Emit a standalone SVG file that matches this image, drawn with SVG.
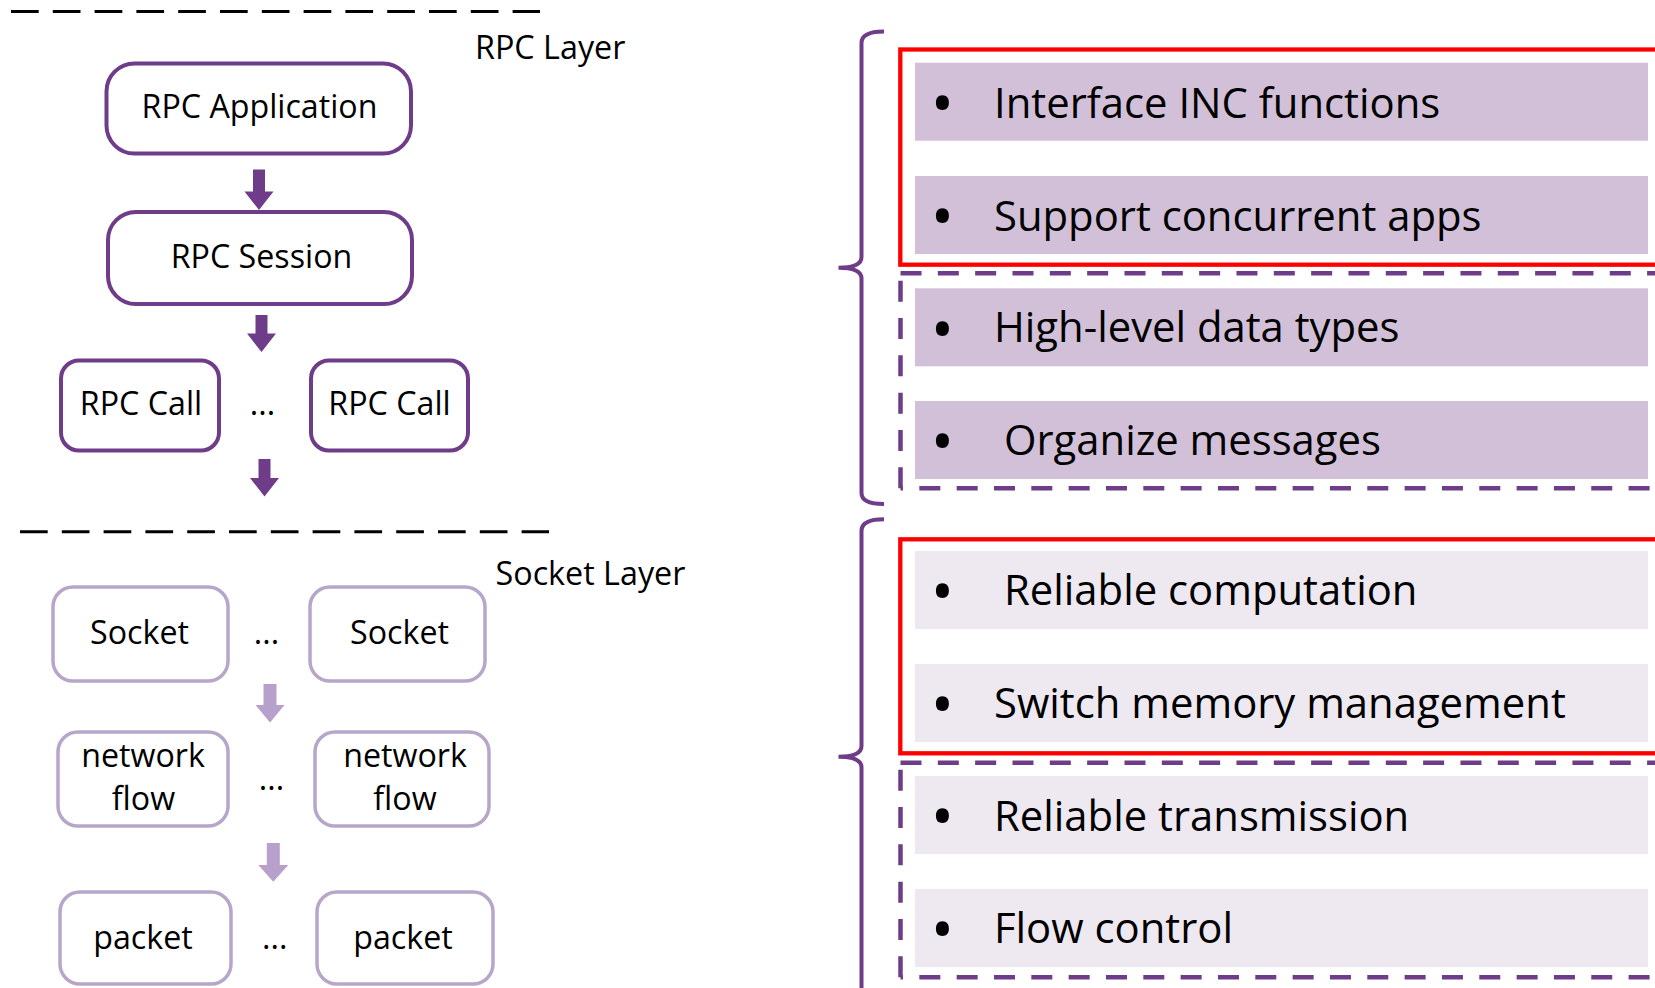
<svg xmlns="http://www.w3.org/2000/svg" width="1655" height="988" viewBox="0 0 1655 988">
<style>
  .t { font-family: "Open Sans", "Liberation Sans", sans-serif; fill: #000; }
  .ls { font-size: 32.2px; text-anchor: middle; }
  .lab { font-size: 32.3px; }
  .rs { font-size: 41.8px; }
  .bul { font-size: 62px; text-anchor: middle; }
  .dk { fill: #fff; stroke: #6E3C88; stroke-width: 4; }
  .lt { fill: #fff; stroke: #B8A6CA; stroke-width: 3.5; }
  .adk { fill: #6E3C88; }
  .alt { fill: #B7A0CB; }
  .sep { stroke: #000; stroke-width: 3; stroke-dasharray: 27.7 14.1; fill: none; }
  .bar1 { fill: #D1C0D7; }
  .bar2 { fill: #EEE9F0; }
  .red { fill: none; stroke: #FF0000; stroke-width: 4.3; }
  .pd { fill: none; stroke: #6E3C88; stroke-width: 4.5; stroke-dasharray: 21 16.33; }
  .brace { fill: none; stroke: #6E3C88; stroke-width: 4; stroke-linecap: butt; }
</style>

<!-- layer separators -->
<g id="separators">
  <line class="sep" x1="11" y1="11.6" x2="540" y2="11.6"/>
  <line class="sep" x1="20" y1="531.7" x2="549" y2="531.7"/>
  <text class="t lab" x="475" y="59">RPC Layer</text>
  <text class="t lab" x="495.5" y="585">Socket Layer</text>
</g>

<!-- RPC layer nodes -->
<g id="rpc-application">
  <rect class="dk" x="106.5" y="63.5" width="304.5" height="90" rx="28"/>
  <text class="t ls" x="259.5" y="118.3">RPC Application</text>
</g>
<g id="rpc-session">
  <rect class="dk" x="108" y="212" width="304" height="92" rx="28"/>
  <text class="t ls" x="261.5" y="268.3">RPC Session</text>
</g>
<g id="rpc-call-1">
  <rect class="dk" x="61" y="360.5" width="158" height="90" rx="18"/>
  <text class="t ls" x="141" y="415">RPC Call</text>
</g>
<g id="rpc-call-dots">
  <text class="t ls" x="262.5" y="415">...</text>
</g>
<g id="rpc-call-2">
  <rect class="dk" x="311" y="360.5" width="157" height="90" rx="18"/>
  <text class="t ls" x="389.5" y="415">RPC Call</text>
</g>

<!-- Socket layer nodes -->
<g id="socket-1">
  <rect class="lt" x="53" y="587" width="175" height="94" rx="20"/>
  <text class="t ls" x="139.5" y="644">Socket</text>
</g>
<g id="socket-dots">
  <text class="t ls" x="266.5" y="644">...</text>
</g>
<g id="socket-2">
  <rect class="lt" x="310" y="587" width="175" height="94" rx="20"/>
  <text class="t ls" x="399.5" y="644">Socket</text>
</g>
<g id="flow-1">
  <rect class="lt" x="58" y="732" width="170" height="94" rx="20"/>
  <text class="t ls" x="143" y="766.7">network</text>
  <text class="t ls" x="143.5" y="810">flow</text>
</g>
<g id="flow-dots">
  <text class="t ls" x="271.5" y="790">...</text>
</g>
<g id="flow-2">
  <rect class="lt" x="315" y="732" width="174" height="94" rx="20"/>
  <text class="t ls" x="405" y="766.7">network</text>
  <text class="t ls" x="405" y="810">flow</text>
</g>
<g id="packet-1">
  <rect class="lt" x="60" y="892" width="171" height="92" rx="20"/>
  <text class="t ls" x="143" y="949">packet</text>
</g>
<g id="packet-dots">
  <text class="t ls" x="274.7" y="949">...</text>
</g>
<g id="packet-2">
  <rect class="lt" x="317" y="892" width="176" height="92" rx="20"/>
  <text class="t ls" x="403" y="949">packet</text>
</g>

<!-- connectors (block arrows) -->
<g id="connectors">
  <polygon class="adk" points="253,169.5 265,169.5 265,191.5 273.5,191.5 259,210 244.5,191.5 253,191.5"/>
  <polygon class="adk" points="255.5,315 267.5,315 267.5,333.5 276,333.5 261.5,352 247,333.5 255.5,333.5"/>
  <polygon class="adk" points="258.5,459 270.5,459 270.5,478 279,478 264.5,496.5 250,478 258.5,478"/>
  <polygon class="alt" points="263.5,684 276.5,684 276.5,705 284.5,705 270,722.5 255.5,705 263.5,705"/>
  <polygon class="alt" points="266.8,843 279.8,843 279.8,865 288.3,865 273.3,881.7 258.3,865 266.8,865"/>
</g>

<!-- braces -->
<g id="brace-rpc">
  <path class="brace" d="M884,31.5 Q861.5,31.5 861.5,43 L861.5,257 Q861.5,267.7 838.5,267.7 Q861.5,267.7 861.5,278.5 L861.5,493 Q861.5,504 884,504"/>
</g>
<g id="brace-socket">
  <path class="brace" d="M884,519.3 Q861.5,519.3 861.5,531 L861.5,746 Q861.5,756.7 838.5,756.7 Q861.5,756.7 861.5,767.5 L861.5,1000"/>
</g>

<!-- RPC layer features -->
<g id="feat-interface">
  <rect class="bar1" x="915" y="62.7" width="733" height="78"/>
  <text class="t bul" x="942.5" y="125">•</text>
  <text class="t rs" x="994" y="118.3">Interface INC functions</text>
</g>
<g id="feat-concurrent">
  <rect class="bar1" x="915" y="176" width="733" height="78"/>
  <text class="t bul" x="942.5" y="238">•</text>
  <text class="t rs" x="994" y="230.5">Support concurrent apps</text>
</g>
<g id="feat-datatypes">
  <rect class="bar1" x="915" y="288.3" width="733" height="78"/>
  <text class="t bul" x="942.5" y="350.5">•</text>
  <text class="t rs" x="994" y="342">High-level data types</text>
</g>
<g id="feat-organize">
  <rect class="bar1" x="915" y="401" width="733" height="78"/>
  <text class="t bul" x="942.5" y="463">•</text>
  <text class="t rs" x="1004" y="455">Organize messages</text>
</g>
<g id="rpc-red-box">
  <rect class="red" x="900.3" y="49.5" width="800" height="215.2"/>
</g>
<g id="rpc-dashed-box">
  <line class="pd" x1="900.5" y1="273.3" x2="1665" y2="273.3"/>
  <line class="pd" x1="900.5" y1="488.3" x2="900.5" y2="273.3"/>
  <line class="pd" x1="900.5" y1="488.3" x2="1665" y2="488.3" stroke-dashoffset="18.5"/>
</g>

<!-- Socket layer features -->
<g id="feat-computation">
  <rect class="bar2" x="915" y="551" width="733" height="78"/>
  <text class="t bul" x="942.5" y="613">•</text>
  <text class="t rs" x="1004" y="605">Reliable computation</text>
</g>
<g id="feat-memory">
  <rect class="bar2" x="915" y="664" width="733" height="78"/>
  <text class="t bul" x="942.5" y="726">•</text>
  <text class="t rs" x="994" y="718.3">Switch memory management</text>
</g>
<g id="feat-transmission">
  <rect class="bar2" x="915" y="776" width="733" height="78"/>
  <text class="t bul" x="942.5" y="838">•</text>
  <text class="t rs" x="994" y="830.7">Reliable transmission</text>
</g>
<g id="feat-flowcontrol">
  <rect class="bar2" x="915" y="889" width="733" height="78"/>
  <text class="t bul" x="942.5" y="951">•</text>
  <text class="t rs" x="994" y="943.3">Flow control</text>
</g>
<g id="socket-red-box">
  <rect class="red" x="900.3" y="539.3" width="800" height="214"/>
</g>
<g id="socket-dashed-box">
  <line class="pd" x1="900.5" y1="762.7" x2="1665" y2="762.7"/>
  <line class="pd" x1="900.5" y1="977.3" x2="900.5" y2="762.7"/>
  <line class="pd" x1="900.5" y1="977.3" x2="1665" y2="977.3" stroke-dashoffset="18.5"/>
</g>
</svg>
